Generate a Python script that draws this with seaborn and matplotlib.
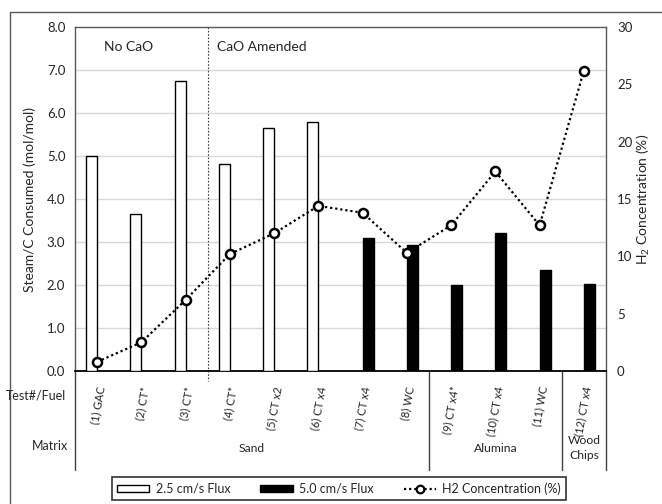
import numpy as np
import pandas as pd
import matplotlib
matplotlib.use("Agg")
import matplotlib.pyplot as plt
from matplotlib.lines import Line2D
from matplotlib.patches import Patch
from matplotlib.transforms import ScaledTranslation
import seaborn as sns

# ---- data ----
tests = ["(1) GAC", "(2) CT*", "(3) CT*", "(4) CT*", "(5) CT x2", "(6) CT x4",
         "(7) CT x4", "(8) WC", "(9) CT x4*", "(10) CT x4", "(11) WC", "(12) CT x4"]
steam_low_flux = [5.00, 3.64, 6.74, 4.81, 5.64, 5.78, None, None, None, None, None, None]
steam_high_flux = [None, None, None, None, None, None, 3.10, 2.93, 2.00, 3.21, 2.36, 2.02]
h2_conc = [0.8, 2.5, 6.2, 10.2, 12.0, 14.4, 13.8, 10.3, 12.7, 17.4, 12.7, 26.2]
flux_levels = ["2.5 cm/s Flux", "5.0 cm/s Flux"]
line_label = "H2 Concentration (%)"
matrices = ["Sand", "Alumina", "Wood\nChips"]
matrix_centers = [3.5, 9.0, 11.0]
matrix_bounds = [-0.5, 7.5, 10.5, 11.5]
left_ticks = [0, 1, 2, 3, 4, 5, 6, 7, 8]
right_ticks = [0, 5, 10, 15, 20, 25, 30]

sns.set_theme(style="white")
plt.rcParams["font.family"] = ["Lato", "DejaVu Sans"]
plt.rcParams["mathtext.fontset"] = "custom"
plt.rcParams["mathtext.rm"] = "Lato"
plt.rcParams["mathtext.it"] = "Lato:italic"
plt.rcParams["text.color"] = "#262626"

rows = []
for t, lo, hi in zip(tests, steam_low_flux, steam_high_flux):
    if lo is not None:
        rows.append((t, flux_levels[0], lo))
    if hi is not None:
        rows.append((t, flux_levels[1], hi))
df = pd.DataFrame(rows, columns=["test", "flux", "steam"])

W, H = 662, 504
fig = plt.figure(figsize=(W / 100, H / 100), dpi=100)
ax = fig.add_axes([75 / W, 1 - 371 / H, 531 / W, 344 / H])

sns.barplot(data=df, x="test", y="steam", hue="flux", order=tests, hue_order=flux_levels,
            palette={flux_levels[0]: "white", flux_levels[1]: "black"},
            edgecolor="black", linewidth=1.0, width=0.5, dodge=True, saturation=1,
            legend=False, ax=ax, zorder=3)

ax.set_xlim(-0.5, 11.5)
ax.set_ylim(0, 8)
ax.set_yticks(left_ticks)
ax.set_yticklabels([f"{v:.1f}" for v in left_ticks], fontsize=9.5)
ax.tick_params(axis="y", length=0, pad=7)
ax.set_xticks(range(len(tests)))
ax.set_xticklabels(tests, rotation=80, ha="right", va="center", rotation_mode="anchor",
                   fontsize=8)
ax.tick_params(axis="x", length=0, pad=11)
shift = ScaledTranslation(4 / 100, 0, fig.dpi_scale_trans)
for lbl in ax.get_xticklabels():
    lbl.set_transform(lbl.get_transform() + shift)
ax.set_xlabel("")
ax.set_ylabel("Steam/C Consumed (mol/mol)", fontsize=10, labelpad=8)

for v in left_ticks[1:-1]:
    ax.axhline(v, color="#d9d9d9", lw=1.0, zorder=0)

for side in ["left", "top", "right"]:
    ax.spines[side].set_color("#595959")
    ax.spines[side].set_linewidth(1.0)
ax.spines["bottom"].set_color("black")
ax.spines["bottom"].set_linewidth(1.3)

# divider between untreated and CaO-amended runs
ax.plot([2.5, 2.5], [1.0, -0.028], transform=ax.get_xaxis_transform(), color="#404040",
        lw=0.8, ls=(0, (1.5, 1.5)), clip_on=False, zorder=2)
ax.text(0.70, 7.53, "No CaO", ha="center", va="center", fontsize=10)
ax.text(3.73, 7.53, "CaO Amended", ha="center", va="center", fontsize=10)

# matrix grouping below the axis
for xb in matrix_bounds:
    ax.plot([xb, xb], [0, -0.288], transform=ax.get_xaxis_transform(), color="#404040",
            lw=1.0, clip_on=False)
for name, xc in zip(matrices, matrix_centers):
    ax.text(xc, -0.224, name, transform=ax.get_xaxis_transform(), ha="center",
            va="center", fontsize=8.7, linespacing=1.45)
fig.text(66 / W, 1 - 396 / H, "Test#/Fuel", ha="right", va="center", fontsize=9)
fig.text(68 / W, 1 - 446 / H, "Matrix", ha="right", va="center", fontsize=9)

# H2 concentration on the secondary axis
ax2 = ax.twinx()
sns.lineplot(x=list(range(len(tests))), y=h2_conc, ax=ax2, color="black", lw=1.6,
             ls=(0, (1, 1.3)), marker="o", markersize=6.5, markerfacecolor="white",
             markeredgecolor="black", markeredgewidth=1.8, zorder=5)
ax2.set_ylim(0, 30)
ax2.set_xlim(-0.5, 11.5)
ax2.set_yticks(right_ticks)
ax2.set_yticklabels([str(v) for v in right_ticks], fontsize=9.5)
ax2.tick_params(axis="y", length=0, pad=8)
for s in ax2.spines.values():
    s.set_visible(False)
ax2.set_ylabel(r"H$_2$ Concentration (%)", fontsize=10, labelpad=2)

# legend
handles = [
    Patch(facecolor="white", edgecolor="black", lw=1.0, label=flux_levels[0]),
    Patch(facecolor="black", edgecolor="black", lw=1.0, label=flux_levels[1]),
    Line2D([], [], color="black", lw=1.6, ls=(0, (1, 1.3)), marker="o", markersize=5.5,
           markerfacecolor="white", markeredgecolor="black", markeredgewidth=1.6,
           label=line_label),
]
leg = fig.legend(handles=handles, loc="center", bbox_to_anchor=(339 / W, 1 - 488.5 / H),
                 ncol=3, fontsize=9, frameon=True, fancybox=False, handlelength=2.6,
                 handleheight=0.5, handletextpad=0.5, columnspacing=2.4, borderpad=0.4,
                 borderaxespad=0)
leg.get_frame().set_edgecolor("black")
leg.get_frame().set_linewidth(1.2)

# chart frame
fig.add_artist(Line2D([10 / W, 1.0], [1 - 12 / H, 1 - 12 / H], transform=fig.transFigure,
                      color="#595959", lw=1.0))
fig.add_artist(Line2D([10 / W, 10 / W], [0.0, 1 - 12 / H], transform=fig.transFigure,
                      color="#595959", lw=1.0))

fig.savefig("out.png", dpi=100, facecolor="white")
